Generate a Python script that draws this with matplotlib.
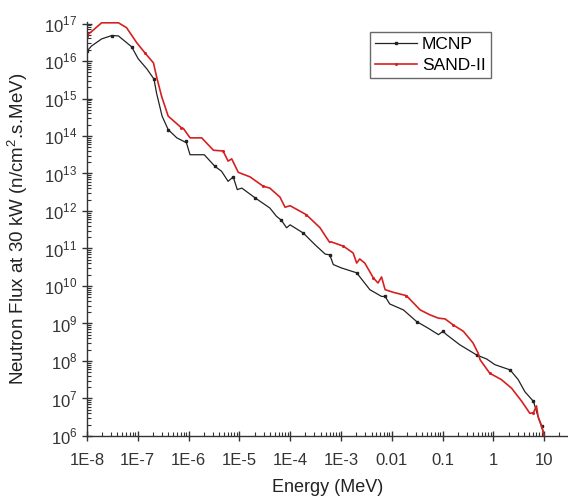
import numpy as np
import matplotlib
matplotlib.use("Agg")
import matplotlib.pyplot as plt
from matplotlib.ticker import LogLocator, NullFormatter, FixedLocator

plt.rcParams['font.family'] = ['Liberation Sans', 'DejaVu Sans']
plt.rcParams['mathtext.fontset'] = 'custom'
plt.rcParams['mathtext.rm'] = 'Liberation Sans'

# log10(Energy / MeV), log10(flux)
mcnp_logE = [-8.0, -7.91, -7.71, -7.51, -7.38, -7.29, -7.12, -6.99, -6.82, -6.68, -6.63,
             -6.52, -6.40, -6.23, -6.07, -6.05, -5.97, -5.69, -5.48,
             -5.35, -5.22, -5.12, -5.04, -4.95, -4.69, -4.40, -4.27, -4.17, -4.07, -4.00,
             -3.74, -3.51, -3.31, -3.22, -3.15, -2.99, -2.69, -2.43, -2.20, -2.13, -2.04,
             -1.77, -1.51, -1.28, -1.08, -0.99, -0.92, -0.66, -0.33, -0.13, 0.03, 0.33,
             0.49, 0.62, 0.79, 0.85, 0.90, 0.95, 1.0]
mcnp_logF = [16.26, 16.40, 16.59, 16.68, 16.67, 16.57, 16.38, 16.06, 15.79, 15.52, 15.15,
             14.53, 14.17, 13.95, 13.84, 13.86, 13.50, 13.50, 13.19,
             13.06, 12.79, 12.91, 12.57, 12.61, 12.35, 12.08, 11.86, 11.75, 11.55, 11.63,
             11.41, 11.10, 10.85, 10.83, 10.57, 10.48, 10.35, 9.90, 9.72, 9.72, 9.52,
             9.36, 9.05, 8.87, 8.70, 8.79, 8.70, 8.43, 8.16, 8.05, 7.90, 7.76,
             7.50, 7.18, 6.92, 6.65, 6.43, 6.25, 6.03]

sand_logE = [-8.0, -7.71, -7.38, -7.22, -7.02, -6.86, -6.69, -6.63, -6.53, -6.40, -6.14,
             -6.10, -5.97, -5.74, -5.51, -5.32, -5.22, -5.15, -5.02, -4.79, -4.53, -4.40,
             -4.20, -4.10, -4.00, -3.68, -3.41, -3.28, -3.22, -3.20, -2.95, -2.76, -2.69,
             -2.63, -2.53, -2.36, -2.27, -2.20, -2.13, -1.97, -1.71, -1.44, -1.25, -1.08,
             -0.95, -0.79, -0.59, -0.40, -0.30, -0.26, -0.07, 0.16, 0.36, 0.56, 0.72,
             0.79, 0.85, 0.88, 0.95, 1.0]
sand_logF = [16.68, 17.02, 17.02, 16.89, 16.49, 16.22, 15.95, 15.59, 15.06, 14.53, 14.22,
             14.20, 13.95, 13.95, 13.62, 13.60, 13.33, 13.39, 13.03, 12.91, 12.66, 12.61,
             12.37, 12.10, 12.14, 11.90, 11.55, 11.28, 11.16, 11.18, 11.06, 10.88, 10.61,
             10.72, 10.61, 10.21, 10.08, 10.24, 9.90, 9.83, 9.74, 9.36, 9.23, 9.14,
             9.12, 8.96, 8.79, 8.48, 8.21, 8.03, 7.67, 7.50, 7.27, 6.92, 6.60,
             6.62, 6.80, 6.52, 6.27, 6.0]

xtick_vals = [1e-8, 1e-7, 1e-6, 1e-5, 1e-4, 1e-3, 1e-2, 1e-1, 1, 10]
xtick_labels = ['1E-8', '1E-7', '1E-6', '1E-5', '1E-4', '1E-3', '0.01', '0.1', '1', '10']
ytick_vals = [10.0**k for k in range(6, 18)]
ytick_labels = [r'$10^{%d}$' % k for k in range(6, 18)]

mcnp_E = 10 ** np.array(mcnp_logE)
mcnp_F = 10 ** np.array(mcnp_logF)
sand_E = 10 ** np.array(sand_logE)
sand_F = 10 ** np.array(sand_logF)

fig = plt.figure(figsize=(5.68, 5.01), dpi=100)
ax = fig.add_axes([0.153, 0.130, 0.847, 0.826])

ax.plot(mcnp_E, mcnp_F, color='#222222', lw=0.9, marker='s', ms=1.6,
        markevery=3, label='MCNP')
ax.plot(sand_E, sand_F, color='#d62020', lw=1.2, marker='o', ms=1.2,
        markevery=5, label='SAND-II')

ax.set_xscale('log')
ax.set_yscale('log')
ax.set_xlim(1e-8, 10 ** 1.47)
ax.set_ylim(1e6, 10 ** 17.04)

ax.spines['top'].set_visible(False)
ax.spines['right'].set_visible(False)
for s in ['left', 'bottom']:
    ax.spines[s].set_linewidth(1.0)
    ax.spines[s].set_color('#333333')

ax.xaxis.set_major_locator(FixedLocator(xtick_vals))
ax.set_xticklabels(xtick_labels)
ax.yaxis.set_major_locator(FixedLocator(ytick_vals))
ax.set_yticklabels(ytick_labels)
ax.xaxis.set_minor_locator(LogLocator(base=10, subs=np.arange(2, 10), numticks=30))
ax.yaxis.set_minor_locator(LogLocator(base=10, subs=np.arange(2, 10), numticks=30))
ax.xaxis.set_minor_formatter(NullFormatter())
ax.yaxis.set_minor_formatter(NullFormatter())

ax.tick_params(which='major', direction='inout', length=7, width=1.0,
               labelsize=12, colors='#333333', labelcolor='#333333')
ax.tick_params(which='minor', direction='in', length=3, width=0.8, colors='#333333')
ax.tick_params(axis='x', which='major', pad=9)

ax.set_xlabel('Energy (MeV)', fontsize=13, color='#222222', labelpad=8)
ax.set_ylabel('Neutron Flux at 30 kW (n/cm$^2$.s.MeV)', fontsize=13.5,
              color='#222222', labelpad=10)

leg = ax.legend(loc='upper left', bbox_to_anchor=(0.588, 0.976), fontsize=12.5,
                frameon=True, fancybox=False, edgecolor='#444444',
                handlelength=2.4, handletextpad=0.3, borderpad=0.3,
                labelspacing=0.3, borderaxespad=0)
leg.get_frame().set_linewidth(1.0)

fig.savefig('out.png', dpi=100)
